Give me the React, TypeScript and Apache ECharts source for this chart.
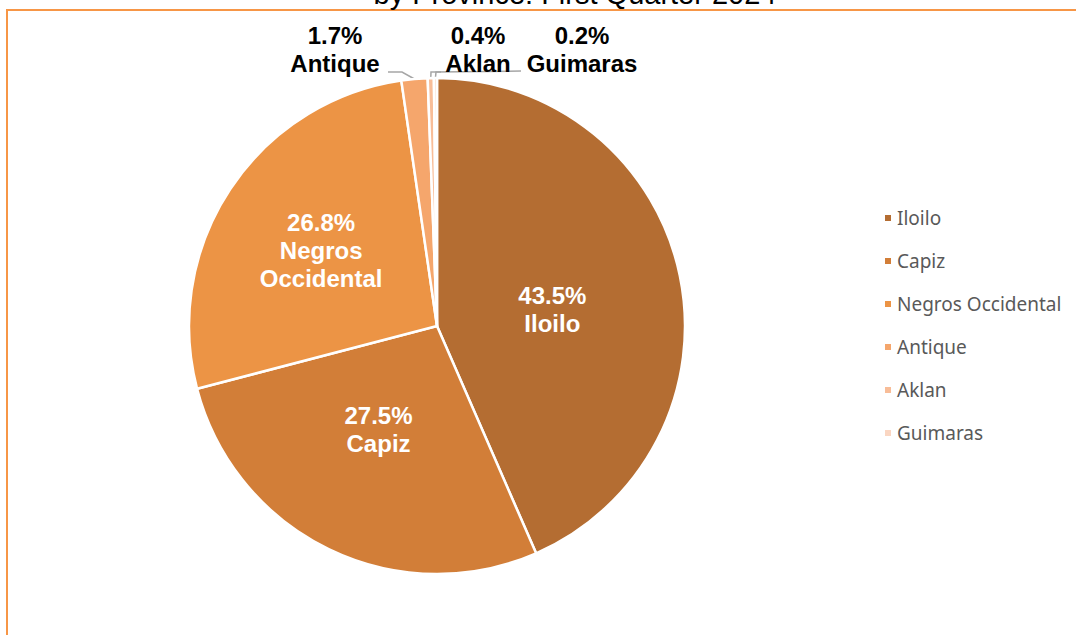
import React, { useEffect, useRef } from "react";
import * as echarts from "echarts";

const categories = ["Iloilo", "Capiz", "Negros Occidental", "Antique", "Aklan", "Guimaras"];
const shares = [43.5, 27.5, 26.8, 1.7, 0.4, 0.2];
const sliceColors = ["#B46D32", "#D27E38", "#EC9445", "#F5A66C", "#F8BD98", "#FAD6C2"];
const labelNames = ["Iloilo", "Capiz", "Negros\nOccidental", "Antique", "Aklan", "Guimaras"];
const titleText = "by Province: First Quarter 2024";

// label placements (layout, not data)
const insideLabelShift: Record<number, [number, number]> = {
  0: [-9, 9],
  1: [-3, -11],
  2: [-10, -5],
};
const outsideLabelPos: Record<number, [number, number]> = {
  3: [335, 49],
  4: [478, 49],
  5: [582, 49],
};
// leader line elbow and end points
const leaderPoints: Record<number, [number, number][]> = {
  3: [[402, 72], [388, 72]],
  4: [[431, 72], [441, 72]],
  5: [[436, 72], [521, 71]],
};

export default function App() {
  const ref = useRef<HTMLDivElement>(null);
  useEffect(() => {
    document.body.style.margin = "0";
    const chart = echarts.init(ref.current!, undefined, { renderer: "svg" });
    const cx = 437;
    const cy = 326;
    const R = 248;
    const total = shares.reduce((a, b) => a + b, 0);
    const data = categories.map((name, i) => {
      const inside = i < 3;
      return {
        name,
        value: shares[i],
        itemStyle: { color: sliceColors[i] },
        label: inside
          ? { position: "inside", color: "#FFFFFF" }
          : { position: "outside", color: "#000000" },
        labelLine: { show: !inside },
      };
    });
    chart.setOption({
      animation: false,
      backgroundColor: "#FFFFFF",
      graphic: [
        {
          type: "polyline",
          shape: { points: [[7, 640], [7, 10], [1080, 10]] },
          style: { stroke: "#F79646", lineWidth: 2, fill: "none" },
          silent: true,
        },
        {
          type: "text",
          x: 575,
          y: -6,
          style: {
            text: titleText,
            font: "29px 'Liberation Sans', Arial, sans-serif",
            fill: "#000000",
            align: "center",
            verticalAlign: "middle",
          },
        },
      ],
      legend: {
        orient: "vertical",
        left: 878,
        top: 203,
        itemWidth: 8,
        itemHeight: 8,
        itemGap: 23,
        icon: "rect",
        data: categories,
        textStyle: {
          color: "#595959",
          fontSize: 19,
          lineHeight: 20,
          fontFamily: "'Noto Sans', sans-serif",
        },
      },
      series: [
        {
          type: "pie",
          center: [cx, cy],
          radius: [0, R],
          startAngle: 90,
          clockwise: true,
          avoidLabelOverlap: false,
          itemStyle: { borderColor: "#FFFFFF", borderWidth: 2.5 },
          label: {
            fontFamily: "'Liberation Sans', Arial, sans-serif",
            fontWeight: "bold",
            fontSize: 24,
            lineHeight: 28,
            align: "center",
            formatter: (p: any) => `${p.value.toFixed(1)}%\n${labelNames[p.dataIndex]}`,
          },
          labelLine: {
            lineStyle: { color: "#A6A6A6", width: 1.5 },
            length: 6,
            length2: 10,
          },
          labelLayout: (params: any) => {
            const i = params.dataIndex;
            const shift = insideLabelShift[i];
            if (shift) return { dx: shift[0], dy: shift[1] };
            const pos = outsideLabelPos[i];
            if (!pos) return {};
            let start: number[] | undefined =
              params.labelLinePoints && params.labelLinePoints[0];
            if (!start) {
              let before = 0;
              for (let k = 0; k < i; k++) before += shares[k];
              const a = ((before + shares[i] / 2) / total) * Math.PI * 2;
              start = [cx + R * Math.sin(a), cy - R * Math.cos(a)];
            }
            return {
              x: pos[0],
              y: pos[1],
              align: "center",
              verticalAlign: "middle",
              labelLinePoints: [start, ...leaderPoints[i]],
            };
          },
          data,
        },
      ],
    });
    return () => chart.dispose();
  }, []);
  return (
    <div
      ref={ref}
      style={{ position: "absolute", left: 0, top: 0, width: 1076, height: 635 }}
    />
  );
}
